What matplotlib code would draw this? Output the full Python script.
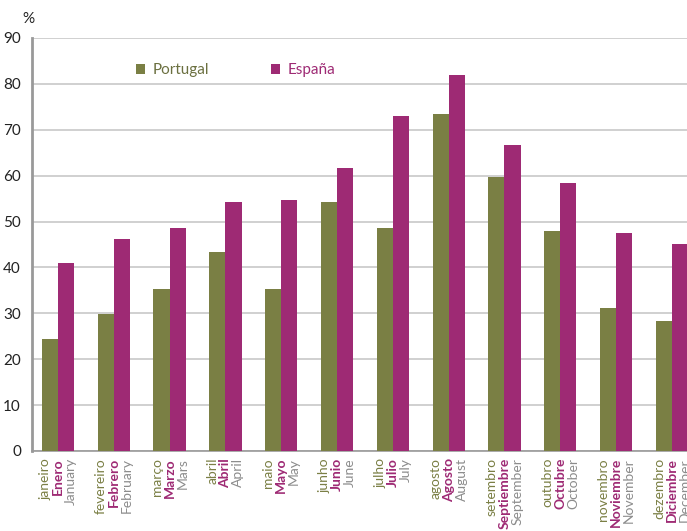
import numpy as np
import matplotlib.pyplot as plt
from matplotlib.transforms import offset_copy, blended_transform_factory

plt.rcParams['font.family'] = ['Lato', 'DejaVu Sans']

# meses em três línguas
meses_pt = ['janeiro', 'fevereiro', 'março', 'abril', 'maio', 'junho',
            'julho', 'agosto', 'setembro', 'outubro', 'novembro', 'dezembro']
meses_es = ['Enero', 'Febrero', 'Marzo', 'Abril', 'Mayo', 'Junio',
            'Julio', 'Agosto', 'Septiembre', 'Octubre', 'Noviembre', 'Diciembre']
meses_en = ['January', 'February', 'Mars', 'April', 'May', 'June',
            'July', 'August', 'September', 'October', 'November', 'December']

# valores em %
portugal = [24.5, 29.9, 35.2, 43.3, 35.3, 54.3, 48.5, 73.5, 59.8, 47.9, 31.1, 28.4]
espana = [40.9, 46.2, 48.7, 54.3, 54.8, 61.7, 72.9, 82.0, 66.7, 58.3, 47.5, 45.1]

cor_pt = '#7a7f44'
cor_es = '#9e2a74'
cor_en = '#8c8c8c'

fig = plt.figure(figsize=(6.87, 5.31), dpi=100)
ax = fig.add_axes([32/687, 1 - 451/531, 1 - 32/687, (451 - 38)/531])

x = np.arange(len(meses_pt))
w = 0.29
ax.bar(x - w/2, portugal, w, color=cor_pt, label='Portugal', zorder=3)
ax.bar(x + w/2, espana, w, color=cor_es, label='España', zorder=3)

ax.set_xlim(-0.466, 11.27)
ax.set_ylim(0, 90)
ax.set_yticks(range(0, 91, 10))
ax.yaxis.grid(True, color='#c8c8c8', linewidth=1.2)
ax.set_axisbelow(True)
ax.tick_params(axis='y', length=0, labelsize=11, labelcolor='#222222', pad=8)
ax.set_xticks([])
for s in ['top', 'right']:
    ax.spines[s].set_visible(False)
ax.spines['left'].set_color('#999999')
ax.spines['left'].set_linewidth(2)
ax.spines['bottom'].set_color('#999999')
ax.spines['bottom'].set_linewidth(1.2)

ax.text(-0.006, 1.03, '%', transform=ax.transAxes, ha='center', va='bottom',
        fontsize=11, color='#222222')

# rótulos do eixo x em três linhas rodadas
trans = blended_transform_factory(ax.transData, ax.transAxes)
for i in x:
    for labels, dx, cor, peso in [(meses_pt, -9.2, cor_pt, 'normal'),
                                  (meses_es, 0, cor_es, 'bold'),
                                  (meses_en, 9.2, cor_en, 'normal')]:
        t = offset_copy(trans, fig=fig, x=dx, y=-5, units='points')
        ax.text(i, 0, labels[i], transform=t, rotation=90, ha='center', va='top',
                fontsize=10, color=cor, fontweight=peso, clip_on=False)

leg = ax.legend(loc='upper left', bbox_to_anchor=(0.138, 0.972), ncol=2,
                frameon=False, fontsize=11, handlelength=0.6, handleheight=0.6,
                columnspacing=4.0, handletextpad=0.5)
for txt, cor in zip(leg.get_texts(), ['#6b7040', cor_es]):
    txt.set_color(cor)

fig.savefig('out.png', dpi=100)
